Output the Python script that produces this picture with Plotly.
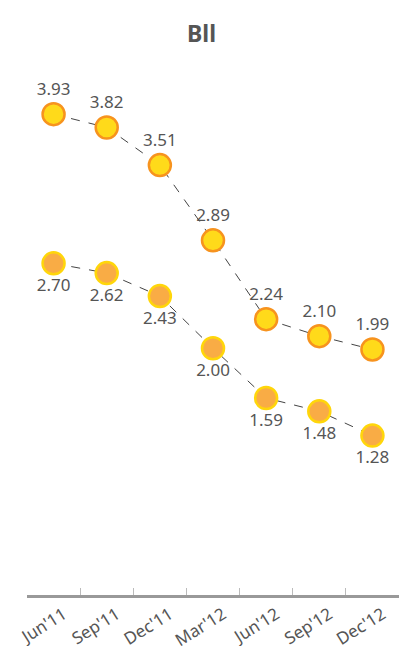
import plotly.graph_objects as go

categories = ["Jun'11", "Sep'11", "Dec'11", "Mar'12", "Jun'12", "Sep'12", "Dec'12"]
series_top = [3.93, 3.82, 3.51, 2.89, 2.24, 2.10, 1.99]
series_bottom = [2.70, 2.62, 2.43, 2.00, 1.59, 1.48, 1.28]

FONT = "Noto Sans"
TXT = "#555555"

fig = go.Figure()
fig.add_trace(go.Scatter(
    x=categories, y=series_bottom, mode="lines+markers+text",
    line=dict(color="#444444", width=1, dash="dash"),
    marker=dict(size=22, color="#F9AC45", line=dict(color="#FFD60A", width=2.5)),
    text=[f"{v:.2f}" for v in series_bottom], textposition="bottom center",
    textfont=dict(family=FONT, size=17, color=TXT), cliponaxis=False,
    hoverinfo="skip"))
fig.add_trace(go.Scatter(
    x=categories, y=series_top, mode="lines+markers+text",
    line=dict(color="#444444", width=1, dash="dash"),
    marker=dict(size=22, color="#FFDA1A", line=dict(color="#F7931E", width=2.5)),
    text=[f"{v:.2f}" for v in series_top], textposition="top center",
    textfont=dict(family=FONT, size=17, color=TXT), cliponaxis=False,
    hoverinfo="skip"))

fig.update_layout(
    width=403, height=646,
    margin=dict(l=27, r=4, t=45, b=51),
    paper_bgcolor="white", plot_bgcolor="white",
    showlegend=False,
    title=dict(text="<b>Bll</b>", x=0.5, xanchor="center", y=0.947, yanchor="middle",
               font=dict(family=FONT, size=23, color=TXT)),
    xaxis=dict(type="category", range=[-0.5, 6.5], showgrid=False, zeroline=False, automargin=False,
               showline=True, linecolor="#999999", linewidth=3,
               ticks="inside", tickson="boundaries", ticklen=7, tickcolor="#BBBBBB", tickwidth=1,
               tickangle=-32, ticklabelshift=10,
               tickfont=dict(family=FONT, size=17, color=TXT)),
    yaxis=dict(range=[-0.034, 4.5], visible=False, showgrid=False, zeroline=False, automargin=False),
)

fig.write_html("out.html", config={"displayModeBar": False},
               post_script="document.body.style.margin='0';")
